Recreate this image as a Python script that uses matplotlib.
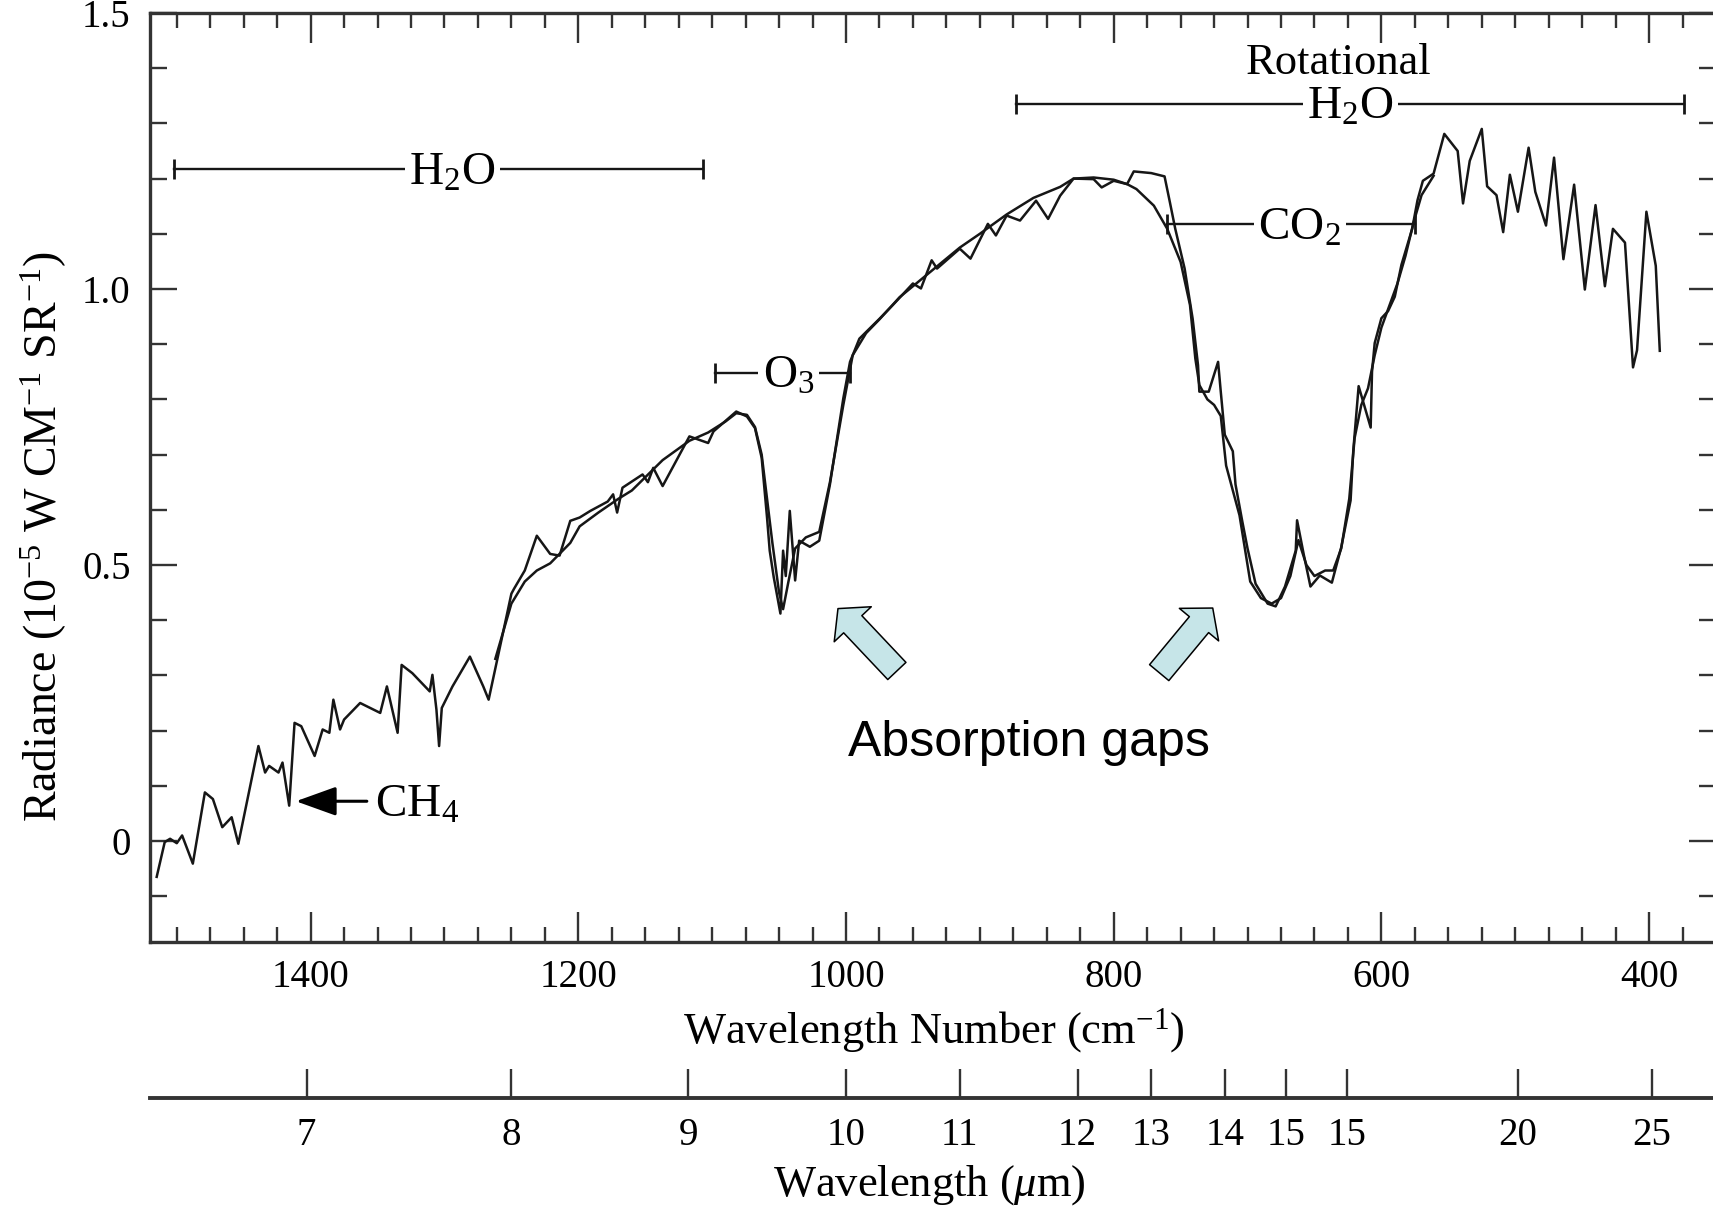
import matplotlib
matplotlib.use('Agg')
import matplotlib.pyplot as plt
from matplotlib.ticker import MultipleLocator

plt.rcParams['font.family'] = ['Liberation Serif', 'DejaVu Serif']
plt.rcParams['mathtext.fontset'] = 'custom'
plt.rcParams['mathtext.rm'] = 'Liberation Serif'
plt.rcParams['mathtext.it'] = 'Liberation Serif:italic'
plt.rcParams['mathtext.bf'] = 'Liberation Serif:bold'

# first (observed) trace: wavenumber (cm-1) and radiance
obs_wn = [1515, 1509, 1505, 1500, 1496, 1488, 1479, 1473, 1466, 1459, 1454, 1439, 1434, 1431,
          1424, 1421, 1416, 1412, 1407, 1397, 1391, 1386, 1383, 1378, 1375, 1363, 1348, 1343,
          1335, 1332, 1324, 1311, 1309, 1306, 1304, 1302, 1294, 1281, 1271, 1267, 1259, 1250,
          1248, 1240, 1231, 1221, 1214, 1206, 1199, 1191, 1178, 1174, 1171, 1167, 1152, 1148,
          1144, 1137, 1117, 1103, 1099, 1082, 1074, 1068, 1063, 1059, 1057, 1054, 1049, 1047,
          1045, 1042, 1038, 1035, 1027, 1020, 1012, 1002, 997, 990, 975, 965, 950, 944, 936,
          932, 915, 907, 894, 888, 880, 870, 858, 849, 840, 830, 815, 809, 800, 790, 785, 772,
          762, 758, 754, 747, 741, 737, 736, 729, 722, 720, 717, 711, 709, 704, 700, 694, 685,
          679, 672, 664, 663, 658, 653, 646, 637, 630, 623, 621, 617, 608, 607, 605, 600, 595,
          590, 585, 577, 573, 569, 561, 553, 543, 539, 534, 525, 521, 514, 509, 504, 498, 490,
          485, 477, 471, 464, 456, 448, 440, 433, 427, 418, 412, 409, 402, 395, 392]
obs_rad = [-0.065, -0.002, 0.004, -0.004, 0.010, -0.041, 0.088, 0.076, 0.025, 0.043, -0.005,
           0.172, 0.124, 0.136, 0.124, 0.142, 0.064, 0.214, 0.208, 0.154, 0.202, 0.196, 0.256,
           0.202, 0.220, 0.250, 0.232, 0.280, 0.196, 0.319, 0.304, 0.271, 0.301, 0.238, 0.172,
           0.241, 0.280, 0.334, 0.280, 0.256, 0.346, 0.448, 0.457, 0.490, 0.553, 0.520, 0.517,
           0.580, 0.586, 0.598, 0.615, 0.628, 0.595, 0.640, 0.664, 0.650, 0.676, 0.643, 0.733,
           0.721, 0.742, 0.778, 0.769, 0.748, 0.694, 0.586, 0.526, 0.478, 0.412, 0.526, 0.480,
           0.598, 0.472, 0.544, 0.533, 0.544, 0.646, 0.802, 0.868, 0.910, 0.946, 0.971, 1.010,
           1.001, 1.052, 1.037, 1.073, 1.055, 1.118, 1.097, 1.133, 1.124, 1.160, 1.127, 1.169,
           1.200, 1.199, 1.184, 1.196, 1.190, 1.213, 1.210, 1.204, 1.157, 1.109, 1.037, 0.946,
           0.862, 0.814, 0.814, 0.868, 0.814, 0.736, 0.706, 0.646, 0.580, 0.530, 0.466, 0.430,
           0.425, 0.461, 0.526, 0.581, 0.519, 0.461, 0.481, 0.468, 0.532, 0.617, 0.707, 0.824,
           0.749, 0.850, 0.902, 0.947, 0.960, 0.986, 1.044, 1.109, 1.161, 1.196, 1.209, 1.281,
           1.250, 1.155, 1.232, 1.290, 1.186, 1.170, 1.103, 1.207, 1.140, 1.256, 1.176, 1.115,
           1.238, 1.054, 1.189, 0.999, 1.152, 1.005, 1.109, 1.084, 0.858, 0.889, 1.140, 1.042,
           0.888]

# second trace, only where it parts from the first
mod_wn = [1262, 1250, 1240, 1231, 1221, 1206, 1199, 1185, 1170, 1160, 1137, 1117, 1103, 1090,
          1082, 1074, 1068, 1063, 1059, 1055, 1050, 1047, 1043, 1038, 1030, 1020, 1012, 1002,
          995, 985, 975, 960, 945, 930, 915, 900, 880, 860, 840, 830, 815, 800, 790, 783, 770,
          760, 750, 743, 739, 736, 730, 725, 720, 716, 706, 698, 690, 682, 675, 668, 662, 656,
          650, 642, 636, 630, 624, 620, 615, 610, 605, 600, 594, 588, 582, 576, 570, 561]
mod_rad = [0.33, 0.43, 0.47, 0.49, 0.503, 0.54, 0.57, 0.595, 0.62, 0.635, 0.69, 0.725, 0.74,
           0.76, 0.775, 0.772, 0.75, 0.70, 0.62, 0.54, 0.45, 0.42, 0.47, 0.53, 0.55, 0.56, 0.65,
           0.79, 0.88, 0.92, 0.945, 0.985, 1.015, 1.045, 1.075, 1.10, 1.135, 1.165, 1.185, 1.20,
           1.202, 1.198, 1.19, 1.181, 1.151, 1.109, 1.049, 0.971, 0.874, 0.826, 0.80, 0.79, 0.77,
           0.68, 0.59, 0.47, 0.44, 0.43, 0.44, 0.48, 0.545, 0.50, 0.48, 0.49, 0.49, 0.53, 0.62,
           0.73, 0.79, 0.82, 0.88, 0.93, 0.97, 1.01, 1.06, 1.12, 1.17, 1.205]

# wavelength scale: where each label sits on the wavenumber axis, and the printed labels
um_pos = [1403, 1250, 1118, 1000, 915, 827, 772, 717, 671, 626, 498, 398]
um_lab = ['7', '8', '9', '10', '11', '12', '13', '14', '15', '15', '20', '25']

# absorption band bars
band_lab = ['H$_2$O', 'H$_2$O', 'O$_3$', 'CO$_2$']
band_x0 = [1502, 873, 1098, 760]
band_x1 = [1107, 374, 997, 575]
band_y = [1.217, 1.336, 0.848, 1.117]
band_tx = [1294, 623, 1043, 661]

# block arrows for the absorption gaps (tip and tail)
gap_tip_wn = [1006, 726]
gap_tip_rad = [0.421, 0.422]
gap_tail_wn = [962, 766]
gap_tail_rad = [0.308, 0.305]

INK = '#161616'
AXC = '#333333'

fig = plt.figure(figsize=(17.13, 12.11), dpi=100)
ax = fig.add_axes([150 / 1713, 269 / 1211, 1566 / 1713, 929 / 1211])

ax.plot(obs_wn, obs_rad, color=INK, lw=1.8, zorder=2)
ax.plot(mod_wn, mod_rad, color=INK, lw=1.8, zorder=2)

ax.set_xlim(1520, 350)
ax.set_ylim(-0.183, 1.5)
ax.xaxis.set_major_locator(MultipleLocator(200))
ax.xaxis.set_minor_locator(MultipleLocator(25))
ax.set_yticks([0, 0.5, 1.0, 1.5], ['0', '0.5', '1.0', '1.5'])
ax.yaxis.set_minor_locator(MultipleLocator(0.1))
ax.tick_params(which='both', direction='in', top=True, right=True, color=AXC,
               width=1.7, labelsize=28)
ax.tick_params(axis='x', which='major', length=21.5, pad=12)
ax.tick_params(axis='x', which='minor', length=10.5)
ax.tick_params(axis='y', which='major', length=19.5, pad=14)
ax.tick_params(axis='y', which='minor', length=12)
for s in ax.spines.values():
    s.set_linewidth(2.4)
    s.set_color(AXC)

# band bars with end caps, label sitting in a gap of the line
for lab, x0, x1, y, tx in zip(band_lab, band_x0, band_x1, band_y, band_tx):
    ax.plot([x0, x1], [y, y], color=INK, lw=1.7, zorder=2.5)
    ax.plot([x0, x1], [y, y], ls='none', marker='|', ms=15, mew=2, color=INK, zorder=2.5)
    ax.annotate(lab, xy=(tx, y), xytext=(0, -11), textcoords='offset points',
                ha='center', va='baseline', fontsize=34, zorder=4,
                bbox=dict(boxstyle='square,pad=0.1', fc='white', ec='none'))

ax.text(632, 1.41, 'Rotational', ha='center', va='center', fontsize=32)

# CH4 pointer
ax.annotate('', xy=(1411, 0.072), xytext=(1358, 0.072),
            arrowprops=dict(arrowstyle='-|>,head_length=1.25,head_width=0.45',
                            mutation_scale=20, color='black', lw=2.2,
                            shrinkA=0, shrinkB=0))
ax.annotate('CH$_4$', xy=(1352, 0.072), xytext=(0, -11), textcoords='offset points',
            ha='left', va='baseline', fontsize=34)

# absorption gap arrows
for x1, y1, x0, y0 in zip(gap_tip_wn, gap_tip_rad, gap_tail_wn, gap_tail_rad):
    ax.annotate('', xy=(x1, y1), xytext=(x0, y0),
                arrowprops=dict(arrowstyle='simple,head_length=1.55,head_width=3.67,tail_width=1.8',
                                mutation_scale=10, fc='#c6e5e8', ec='black', lw=1.1,
                                shrinkA=0, shrinkB=0))

ax.text(863, 0.178, 'Absorption gaps', family=['Liberation Sans', 'DejaVu Sans'],
        fontsize=36, ha='center', va='center', color='black')

# wavelength axis underneath
ax2 = fig.add_axes([150 / 1713, 113 / 1211, 1566 / 1713, 0.0001])
ax2.set_xlim(1520, 350)
ax2.set_yticks([])
for side in ['top', 'left', 'right']:
    ax2.spines[side].set_visible(False)
ax2.spines['bottom'].set_linewidth(2.8)
ax2.spines['bottom'].set_color(AXC)
ax2.set_xticks(um_pos, um_lab)
ax2.tick_params(axis='x', direction='in', length=21, width=1.7, pad=14,
                labelsize=28, color=AXC)
ax2.patch.set_visible(False)

fig.text(934 / 1713, 1 - 1043 / 1211, 'Wavelength Number (cm$^{-1}$)',
         ha='center', va='baseline', fontsize=32)
fig.text(929 / 1713, 1 - 1196 / 1211, 'Wavelength ($\\mu$m)',
         ha='center', va='baseline', fontsize=32)
fig.text(44 / 1713, 1 - 537 / 1211, 'Radiance (10$^{-5}$ W CM$^{-1}$ SR$^{-1}$)',
         rotation=90, ha='center', va='center', fontsize=33)

fig.savefig('out.png', dpi=100)
